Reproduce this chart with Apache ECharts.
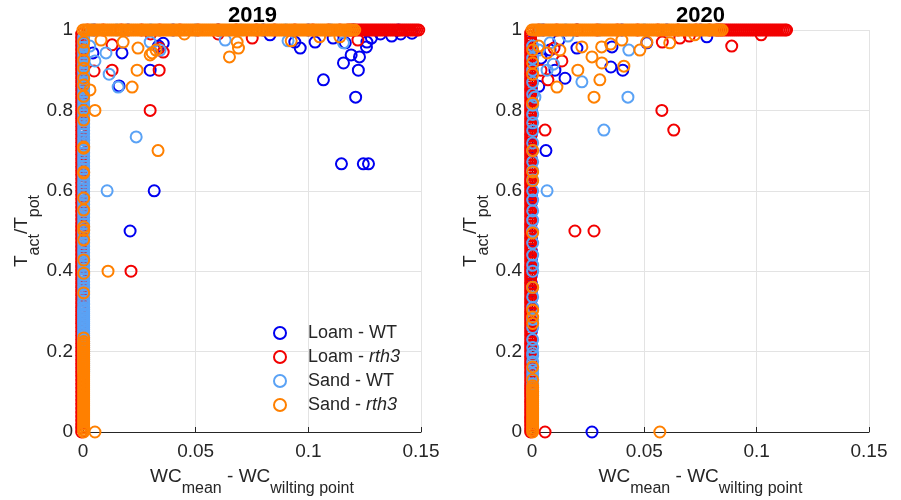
<!DOCTYPE html>
<html><head><meta charset="utf-8">
<script src="https://cdn.jsdelivr.net/npm/echarts@6/dist/echarts.min.js"></script>
<style>html,body{margin:0;padding:0;background:#fff}#c{width:901px;height:500px}</style>
</head><body><div id="c"></div>
<script>
// ---------- DATA ----------
const years = ['2019', '2020'];
const seriesNames = ['Loam - WT', 'Loam - rth3', 'Sand - WT', 'Sand - rth3'];
const xTickValues = [0, 0.05, 0.1, 0.15];
const yTickValues = [0, 0.2, 0.4, 0.6, 0.8, 1];
// WC difference of the points that sit at the wilting point (per series)
const wiltX = [-0.0003, -0.0006, 0.0003, 0.0003];

// ---- 2019 ----
// Loam - WT
const loamWT2019_wiltY = [0.27,0.29,0.31,0.34,0.36,0.38,0.41,0.43,0.46,0.48,0.5,0.52,0.55,0.57,0.6,0.62,0.64,0.66,0.69,0.71,0.73,0.75,0.78,0.8,0.82,0.84,0.86,0.88,0.91,0.93,0.95,0.97];
const loamWT2019_fullX = [0.005,0.02,0.04,0.06,0.08,0.1,0.12,0.14];
const loamWT2019_pts = [[0.0044,0.943],[0.0173,0.943],[0.016,0.861],[0.0298,0.9],[0.0356,0.967],[0.0316,0.6],[0.0209,0.5],[0.1067,0.876],[0.121,0.833],[0.1147,0.667],[0.1244,0.667],[0.1267,0.667],[0.1156,0.918],[0.119,0.938],[0.1227,0.933],[0.1222,0.9],[0.1258,0.958],[0.126,0.97],[0.0964,0.955],[0.103,0.97],[0.1164,0.968],[0.137,0.985],[0.146,0.992],[0.083,0.988],[0.094,0.97],[0.128,0.98],[0.132,0.99],[0.141,0.99],[0.111,0.98],[0.0335,0.96]];
// Loam - rth3
const loamRth2019_wiltY = [0,0.01,0.02,0.03,0.04,0.05,0.06,0.07,0.08,0.09,0.1,0.11,0.12,0.13,0.14,0.15,0.16,0.17,0.18,0.19,0.2,0.21,0.22,0.23,0.24,0.25,0.26,0.27,0.28,0.29,0.3,0.31,0.32,0.33,0.34,0.35,0.36,0.37,0.38,0.39,0.4,0.41,0.42,0.43,0.44,0.45,0.46,0.47,0.48,0.49,0.5,
  0.51,0.52,0.53,0.54,0.55,0.56,0.57,0.58,0.59,0.6,0.61,0.62,0.63,0.64,0.65,0.66,0.67,0.68,0.69,0.7,0.71,0.72,0.73,0.74,0.75,0.76,0.77,0.78,0.79,0.8,0.81,0.82,0.83,0.84,0.85,0.86,0.87,0.88,0.89,0.9,0.91,0.92,0.93,0.94,0.95,0.96,0.97,0.98,0.99];
const loamRth2019_fullX = [0.002,0.009,0.017,0.026,0.034,0.043,0.051,0.06,0.068,0.077,0.085,0.094,0.102,0.109,0.114,
  0.1175,0.1184,0.1193,0.1202,0.1211,0.122,0.1229,0.1238,0.1247,0.1256,0.1265,0.1274,0.1283,0.1292,0.1301,0.131,0.1319,0.1328,0.1337,0.1346,0.1355,0.1364,0.1373,0.1382,0.1391,0.14,0.1409,0.1418,0.1427,0.1436,0.1445,0.1454,0.1463,0.1472,0.1481,0.149];
const loamRth2019_pts = [[0.0298,0.8],[0.0338,0.9],[0.0356,0.945],[0.0129,0.9],[0.0049,0.898],[0.0129,0.963],[0.122,0.975],[0.0751,0.98],[0.0213,0.4],[0.0338,0.955],[0.03,0.99],[0.06,0.99]];
// Sand - WT
const sandWT2019_wiltY = [0.15,0.155,0.16,0.165,0.17,0.175,0.18,0.185,0.19,0.195,0.2,0.205,0.21,0.215,0.22,0.225,0.23,0.235,0.24,0.245,0.25,0.255,0.26,0.265,0.27,0.275,0.28,0.285,0.29,0.295,0.3,0.305,0.31,
  0.318,0.326,0.334,0.342,0.35,0.358,0.366,0.374,0.382,0.39,0.398,0.406,0.414,0.422,0.43,0.438,0.446,0.454,0.462,0.47,0.478,0.486,0.494,0.502,0.51,0.518,0.526,0.534,0.542,0.55,0.558,0.566,0.574,0.582,0.59,0.598,0.606,0.614,0.622,0.63,0.638,0.646,0.654,0.662,0.67,0.678,0.686,0.694,0.702,0.71,0.718,0.726,0.734,0.742,0.75,0.758,0.766,0.774,0.782,0.79,0.798,0.806,0.814,0.822,0.83,0.838,0.846,0.854,0.862,0.87,0.878,0.886,0.894,0.902,0.91,0.918,0.926,0.934,0.942,0.95,0.958,0.966,0.974,0.982];
const sandWT2019_fullX = [0.004,0.015,0.03,0.05,0.07,0.09,0.11];
const sandWT2019_pts = [[0.0236,0.734],[0.0107,0.6],[0.0102,0.943],[0.0116,0.89],[0.0156,0.858],[0.0053,0.923],[0.0298,0.97],[0.0342,0.95],[0.0631,0.975],[0.091,0.973],[0.1156,0.968],[0.003,0.96]];
// Sand - rth3
const sandRth2019_wiltY = [0,0.005,0.01,0.015,0.02,0.025,0.03,0.035,0.04,0.045,0.05,0.055,0.06,0.065,0.07,0.075,0.08,0.085,0.09,0.095,0.1,0.105,0.11,0.115,0.12,0.125,0.13,0.135,0.14,0.145,0.15,0.155,0.16,0.165,0.17,0.175,0.18,0.185,0.19,0.195,0.2,0.205,0.21,0.215,0.22,0.225,
  0.234,0.346,0.395,0.428,0.478,0.502,0.51,0.552,0.582,0.644,0.647,0.706,0.709,0.776,0.8,0.835,0.863,0.88,0.905,0.925,0.95,0.97];
const sandRth2019_fullX = [0,0.0009,0.0018,0.0027,0.0036,0.0045,0.0054,0.0063,0.0072,0.0081,
  0.009,0.0099,0.0108,0.0117,0.0126,0.0135,0.0144,0.0153,0.0162,0.0171,
  0.018,0.0189,0.0198,0.0207,0.0216,0.0225,0.0234,0.0243,0.0252,0.0261,
  0.027,0.0279,0.0288,0.0297,0.0306,0.0315,0.0324,0.0333,0.0342,0.0351,
  0.036,0.0369,0.0378,0.0387,0.0396,0.0405,0.0414,0.0423,0.0432,0.0441,
  0.045,0.0459,0.0468,0.0477,0.0486,0.0495,0.0504,0.0513,0.0522,0.0531,
  0.054,0.0549,0.0558,0.0567,0.0576,0.0585,0.0594,0.0603,0.0612,0.0621,
  0.063,0.0639,0.0648,0.0657,0.0666,0.0675,0.0684,0.0693,0.0702,0.0711,
  0.072,0.0729,0.0738,0.0747,0.0756,0.0765,0.0774,0.0783,0.0792,0.0801,
  0.081,0.0819,0.0828,0.0837,0.0846,0.0855,0.0864,0.0873,0.0882,0.0891,
  0.09,0.0909,0.0918,0.0927,0.0936,0.0945,0.0954,0.0963,0.0972,0.0981,
  0.099,0.0999,0.1008,0.1017,0.1026,0.1035,0.1044,0.1053,0.1062,0.1071,
  0.108,0.1089,0.1098,0.1107,0.1116,0.1125,0.1134,0.1143,0.1152,0.1161,
  0.117,0.1179,0.1188,0.1197,0.1206];
const sandRth2019_pts = [[0.0053,0.8],[0.0333,0.7],[0.0218,0.858],[0.024,0.9],[0.0307,0.943],[0.0244,0.955],[0.0178,0.97],[0.0324,0.95],[0.0031,0.851],[0.065,0.933],[0.069,0.955],[0.0684,0.97],[0.0924,0.973],[0.105,0.983],[0.114,0.983],[0.0111,0.4],[0.0053,0],[0.0298,0.938],[0.045,0.99],[0.008,0.975]];

// ---- 2020 ----
const loamWT2020_wiltY = [0.04,0.08,0.12,0.16,0.18,0.2,0.225,0.25,0.27,0.29,0.31,0.33,0.35,0.37,0.39,0.41,0.43,0.45,0.48,0.5,0.52,0.555,0.57,0.59,0.62,0.65,0.68,0.71,0.74,0.77,0.8,0.83,0.855,0.88,0.9,0.92,0.95,0.97];
const loamWT2020_fullX = [0.005,0.02,0.04,0.06,0.075];
const loamWT2020_pts = [[0.0062,0.7],[0.0351,0.908],[0.0404,0.9],[0.0356,0.958],[0.0147,0.88],[0.0102,0.9],[0.02,0.955],[0.0511,0.968],[0.0778,0.983],[0.0267,0],[0.004,0.93],[0.008,0.95],[0.003,0.86],[0.012,0.975]];
const loamRth2020_wiltY = [0,0.008,0.016,0.024,0.032,0.04,0.048,0.056,0.064,0.072,0.08,0.088,0.096,0.104,0.112,0.12,0.128,0.136,0.144,0.152,0.16,0.168,0.176,0.184,0.192,0.2,0.208,0.216,0.224,0.232,0.24,0.248,0.256,0.264,0.272,0.28,0.288,0.296,0.304,0.312,0.32,0.328,0.336,0.344,0.352,0.36,0.368,0.376,0.384,0.392,0.4,
  0.408,0.416,0.424,0.432,0.44,0.448,0.456,0.464,0.472,0.48,0.488,0.496,0.504,0.512,0.52,0.528,0.536,0.544,0.552,0.56,0.568,0.576,0.584,0.592,0.6,0.608,0.616,0.624,0.632,0.64,0.648,0.656,0.664,0.672,0.68,0.688,0.696,0.704,0.712,0.72,0.728,0.736,0.744,0.752,0.76,0.768,0.776,0.784,0.792,0.8,
  0.808,0.816,0.824,0.832,0.84,0.848,0.856,0.864,0.872,0.88,0.888,0.896,0.904,0.912,0.92,0.928,0.936,0.944,0.952,0.96,0.968,0.976,0.984,0.992];
const loamRth2020_fullX = [0.003,0.011,0.02,0.029,0.038,0.047,0.056,0.065,0.073,0.079,
  0.082,0.0829,0.0838,0.0847,0.0856,0.0865,0.0874,0.0883,0.0892,0.0901,0.091,0.0919,0.0928,0.0937,0.0946,0.0955,0.0964,0.0973,0.0982,0.0991,0.1,0.1009,0.1018,0.1027,0.1036,0.1045,0.1054,0.1063,0.1072,0.1081,0.109,0.1099,0.1108,0.1117,0.1126,0.1133];
const loamRth2020_pts = [[0.0578,0.8],[0.0631,0.751],[0.0058,0.751],[0.0191,0.5],[0.0276,0.5],[0.0889,0.96],[0.102,0.988],[0.0071,0.876],[0.0133,0.923],[0.0098,0.955],[0.0658,0.98],[0.058,0.97],[0.0058,0],[0.004,0.9],[0.07,0.985]];
const sandWT2020_wiltY = [0.09,0.1,0.11,0.12,0.13,0.137,0.145,0.155,0.162,0.175,0.19,0.197,0.21,0.23,0.26,0.28,0.31,0.336,0.36,0.4,0.415,0.44,0.47,0.5,0.527,0.55,0.577,0.6,0.627,0.65,0.672,0.7,0.719,0.75,0.769,0.79,0.813,0.84,0.87,0.9,0.93,0.96];
const sandWT2020_fullX = [0.004,0.015,0.03,0.05,0.07];
const sandWT2020_pts = [[0.032,0.751],[0.0427,0.833],[0.0222,0.871],[0.0067,0.6],[0.0067,0.9],[0.0013,0.833],[0.0431,0.95],[0.008,0.968],[0.003,0.95],[0.016,0.985],[0.0095,0.915]];
const sandRth2020_wiltY = [0,0.005,0.01,0.015,0.02,0.025,0.03,0.035,0.04,0.045,0.05,0.055,0.06,0.065,0.07,0.075,0.08,0.085,0.09,0.095,0.1,0.105,0.11,0.115,
  0.13,0.162,0.27,0.286,0.303,0.36,0.495,0.625,0.647,0.7,0.818,0.89,0.918,0.95];
const sandRth2020_fullX = [0,0.0009,0.0018,0.0027,0.0036,0.0045,0.0054,0.0063,0.0072,0.0081,
  0.009,0.0099,0.0108,0.0117,0.0126,0.0135,0.0144,0.0153,0.0162,0.0171,
  0.018,0.0189,0.0198,0.0207,0.0216,0.0225,0.0234,0.0243,0.0252,0.0261,
  0.027,0.0279,0.0288,0.0297,0.0306,0.0315,0.0324,0.0333,0.0342,0.0351,
  0.036,0.0369,0.0378,0.0387,0.0396,0.0405,0.0414,0.0423,0.0432,0.0441,
  0.045,0.0459,0.0468,0.0477,0.0486,0.0495,0.0504,0.0513,0.0522,0.0531,
  0.054,0.0549,0.0558,0.0567,0.0576,0.0585,0.0594,0.0603,0.0612,0.0621,
  0.063,0.0639,0.0648,0.0657,0.0666,0.0675,0.0684,0.0693,0.0702,0.0711,
  0.072,0.0729,0.0738,0.0747,0.0756,0.0765,0.0774,0.0783,0.0792,0.0801,
  0.081,0.0819,0.0828,0.0837,0.0846];
const sandRth2020_pts = [[0.0276,0.833],[0.0302,0.876],[0.0111,0.858],[0.0204,0.9],[0.0311,0.918],[0.0409,0.91],[0.0267,0.933],[0.0067,0.943],[0.0124,0.95],[0.0222,0.958],[0.031,0.958],[0.048,0.95],[0.0511,0.97],[0.0613,0.968],[0.0724,0.988],[0.04,0.975],[0.0569,0],[0.035,0.965],[0.003,0.96]];

// ---------- BUILD ----------
const groups = [
  [[loamWT2019_wiltY, loamWT2019_fullX, loamWT2019_pts], [loamRth2019_wiltY, loamRth2019_fullX, loamRth2019_pts],
   [sandWT2019_wiltY, sandWT2019_fullX, sandWT2019_pts], [sandRth2019_wiltY, sandRth2019_fullX, sandRth2019_pts]],
  [[loamWT2020_wiltY, loamWT2020_fullX, loamWT2020_pts], [loamRth2020_wiltY, loamRth2020_fullX, loamRth2020_pts],
   [sandWT2020_wiltY, sandWT2020_fullX, sandWT2020_pts], [sandRth2020_wiltY, sandRth2020_fullX, sandRth2020_pts]]
];
const colors = ['#0000F0', '#F20000', '#5AA2F5', '#FF8000'];
const FONT = 'Liberation Sans, Arial, sans-serif';
const TXT = '#262626';
const richName = {
  m: {fontSize: 19, lineHeight: 22, verticalAlign: 'top', fontFamily: FONT, color: TXT},
  s: {fontSize: 16, lineHeight: 16, padding: [14, 0, 0, 0], verticalAlign: 'top', fontFamily: FONT, color: TXT}
};
const gridPos = [{left: 83, width: 338}, {left: 532, width: 337}];
const titleLeft = [228, 676];

const series = [];
years.forEach((yr, g) => {
  groups[g].forEach((parts, i) => {
    const [wy, fx, pts] = parts;
    const data = wy.map(y => [wiltX[i], y]).concat(fx.map(x => [x, 1]), pts);
    series.push({
      name: seriesNames[i], type: 'scatter', xAxisIndex: g, yAxisIndex: g,
      data, symbol: 'circle', symbolSize: 11, clip: false, silent: true,
      large: false, progressive: 0,
      itemStyle: {color: 'rgba(0,0,0,0)', borderColor: colors[i], borderWidth: 2, opacity: 1},
      emphasis: {disabled: true}
    });
  });
});

const chart = echarts.init(document.getElementById('c'), null, {renderer: 'canvas'});
chart.setOption({
  animation: false,
  backgroundColor: '#fff',
  title: years.map((yr, g) => ({
    text: yr, left: titleLeft[g], top: 5, padding: 0, z: 0,
    textStyle: {fontSize: 22, fontWeight: 'bold', color: '#000', fontFamily: FONT}
  })),
  grid: gridPos.map(p => ({left: p.left, width: p.width, top: 30, height: 402, outerBoundsMode: 'none', containLabel: false})),
  xAxis: years.map((yr, g) => ({
    type: 'value', gridIndex: g, min: 0, max: 0.15, interval: 0.05,
    axisLine: {show: true, onZero: false, lineStyle: {color: TXT, width: 1}},
    axisTick: {show: true, inside: true, length: 5, lineStyle: {color: TXT}},
    axisLabel: {fontSize: 19, color: TXT, fontFamily: FONT, margin: 10,
      formatter: v => xTickValues.includes(+v.toFixed(4)) ? String(+v.toFixed(4)) : ''},
    splitLine: {show: true, lineStyle: {color: '#e3e3e3', width: 1}},
    name: '{m|WC}{s|mean}{m| - WC}{s|wilting point}',
    nameLocation: 'middle', nameGap: 35,
    nameTextStyle: {rich: richName}
  })),
  yAxis: years.map((yr, g) => ({
    type: 'value', gridIndex: g, min: 0, max: 1, interval: 0.2, offset: 6,
    axisLine: {show: true, lineStyle: {color: TXT, width: 1}},
    axisTick: {show: true, inside: true, length: 5, lineStyle: {color: TXT}},
    axisLabel: {fontSize: 19, color: TXT, fontFamily: FONT, margin: 4,
      formatter: v => yTickValues.includes(+v.toFixed(4)) ? String(+v.toFixed(4)) : ''},
    splitLine: {show: true, lineStyle: {color: '#e3e3e3', width: 1}},
    name: '{m|T}{s|act}{m|/T}{s|pot}',
    nameLocation: 'middle', nameGap: 38, nameRotate: 90,
    nameTextStyle: {rich: richName}
  })),
  legend: {
    data: seriesNames, orient: 'vertical', left: 273, top: 321, padding: 0,
    itemGap: 0, itemWidth: 12, itemHeight: 12, icon: 'circle', selectedMode: false,
    formatter: n => n.replace('rth3', '{i|rth3}'),
    textStyle: {fontSize: 18, color: TXT, fontFamily: FONT, lineHeight: 24, padding: [0, 0, 0, 17],
      rich: {i: {fontStyle: 'italic', fontSize: 18, color: TXT, fontFamily: FONT}}}
  },
  series
});
</script></body></html>
